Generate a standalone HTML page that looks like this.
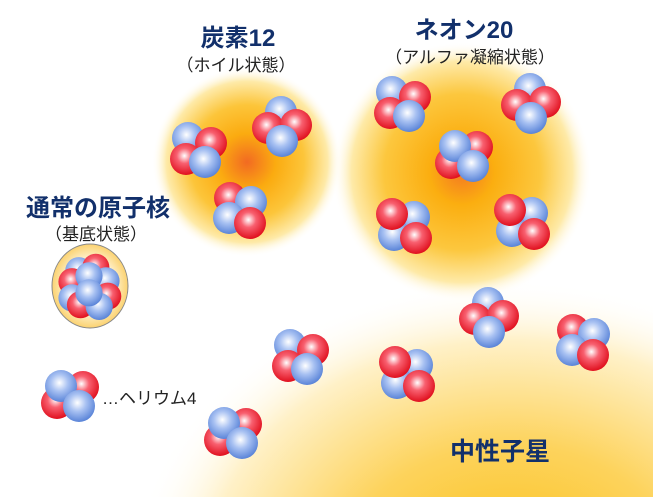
<!DOCTYPE html>
<html><head><meta charset="utf-8"><style>
html,body{margin:0;padding:0;background:#fff;overflow:hidden;width:653px;height:497px;}
svg{display:block;}
.t{font-family:"Liberation Sans","Noto Sans CJK JP",sans-serif;font-weight:bold;fill:#12306b;}
.s{font-family:"Liberation Sans","Noto Sans CJK JP",sans-serif;fill:#222;}
</style></head><body>
<svg width="653" height="497" viewBox="0 0 653 497" xmlns="http://www.w3.org/2000/svg">
<defs>
<radialGradient id="rb" cx="0.45" cy="0.4" r="0.6"><stop offset="0" stop-color="#ffffff"/><stop offset="0.45" stop-color="#a8c1f2"/><stop offset="1" stop-color="#5a84d8"/></radialGradient>
<radialGradient id="rr" cx="0.45" cy="0.4" r="0.6"><stop offset="0" stop-color="#ffffff"/><stop offset="0.4" stop-color="#f86070"/><stop offset="1" stop-color="#e0101e"/></radialGradient>
<radialGradient id="gc" cx="0.5" cy="0.5" r="0.5"><stop offset="0" stop-color="#f26a22"/><stop offset="0.3" stop-color="#fbab10"/><stop offset="0.6" stop-color="#fcc53a"/><stop offset="0.85" stop-color="#feeaa8"/><stop offset="1" stop-color="#fff" stop-opacity="0"/></radialGradient>
<radialGradient id="gn" cx="0.5" cy="0.5" r="0.5"><stop offset="0" stop-color="#f47a22"/><stop offset="0.25" stop-color="#fbae10"/><stop offset="0.6" stop-color="#fcc73e"/><stop offset="0.85" stop-color="#feeaa8"/><stop offset="1" stop-color="#fff" stop-opacity="0"/></radialGradient>
<radialGradient id="gs" cx="0.5" cy="0.5" r="0.5"><stop offset="0" stop-color="#fbbf14"/><stop offset="0.45" stop-color="#fdd35c"/><stop offset="0.8" stop-color="#fff1c8"/><stop offset="1" stop-color="#fff" stop-opacity="0"/></radialGradient>
<radialGradient id="gg" cx="0.5" cy="0.5" r="0.5"><stop offset="0.6" stop-color="#fff6dc"/><stop offset="1" stop-color="#fbd270"/></radialGradient>
<g id="A">
<circle cx="-11" cy="-12" r="16" fill="url(#rb)"/>
<circle cx="12" cy="-7" r="16" fill="url(#rr)"/>
<circle cx="-13" cy="9" r="16" fill="url(#rr)"/>
<circle cx="6" cy="12" r="16" fill="url(#rb)"/>
</g>
<g id="B">
<circle cx="0" cy="-16" r="16" fill="url(#rb)"/>
<circle cx="-13" cy="0" r="16" fill="url(#rr)"/>
<circle cx="15" cy="-3" r="16" fill="url(#rr)"/>
<circle cx="1" cy="13" r="16" fill="url(#rb)"/>
</g>
<g id="C">
<circle cx="-13" cy="8" r="16" fill="url(#rr)"/>
<circle cx="13" cy="-8" r="16" fill="url(#rr)"/>
<circle cx="-9" cy="-9" r="16" fill="url(#rb)"/>
<circle cx="9" cy="11" r="16" fill="url(#rb)"/>
</g>
<g id="D">
<circle cx="-11" cy="-12" r="16" fill="url(#rr)"/>
<circle cx="10" cy="-8" r="16" fill="url(#rb)"/>
<circle cx="-12" cy="8" r="16" fill="url(#rb)"/>
<circle cx="9" cy="13" r="16" fill="url(#rr)"/>
</g>
<g id="E">
<circle cx="10" cy="-9" r="16" fill="url(#rb)"/>
<circle cx="-10" cy="9" r="16" fill="url(#rb)"/>
<circle cx="12" cy="12" r="16" fill="url(#rr)"/>
<circle cx="-12" cy="-12" r="16" fill="url(#rr)"/>
</g>
</defs>
<ellipse cx="510" cy="580" rx="380" ry="300" fill="url(#gs)"/>
<circle cx="462" cy="172" r="130" fill="url(#gn)"/>
<circle cx="247" cy="162" r="95" fill="url(#gc)"/>

<text class="t" x="238" y="46" font-size="24" text-anchor="middle">炭素12</text>
<text class="s" x="236" y="71" font-size="17" text-anchor="middle">（ホイル状態）</text>
<text class="t" x="464" y="38" font-size="24" text-anchor="middle">ネオン20</text>
<text class="s" x="470" y="63" font-size="17" text-anchor="middle">（アルファ凝縮状態）</text>
<text class="t" x="98" y="216" font-size="24" text-anchor="middle">通常の原子核</text>
<text class="s" x="96" y="240" font-size="17" text-anchor="middle">（基底状態）</text>
<text class="t" x="500" y="460" font-size="25" text-anchor="middle">中性子星</text>
<text class="s" x="102" y="404" font-size="17">…ヘリウム4</text>

<ellipse cx="90" cy="286" rx="38" ry="42" fill="url(#gg)" stroke="#888" stroke-width="1"/>
<g transform="translate(89,286) scale(0.85)">
<circle cx="-12" cy="-18" r="16" fill="url(#rb)"/><circle cx="8" cy="-22" r="16" fill="url(#rr)"/>
<circle cx="20" cy="-6" r="16" fill="url(#rb)"/><circle cx="-20" cy="-5" r="16" fill="url(#rr)"/>
<circle cx="-20" cy="14" r="16" fill="url(#rb)"/><circle cx="22" cy="12" r="16" fill="url(#rr)"/>
<circle cx="-10" cy="22" r="16" fill="url(#rr)"/><circle cx="12" cy="24" r="16" fill="url(#rb)"/>
<circle cx="0" cy="-12" r="16" fill="url(#rb)"/><circle cx="0" cy="8" r="16" fill="url(#rb)"/>
</g>

<use href="#A" x="199" y="150"/>
<use href="#B" x="281" y="128"/>
<use href="#D" x="241" y="210"/>
<use href="#A" x="403" y="104"/>
<use href="#B" x="530" y="105"/>
<use href="#C" x="464" y="155"/>
<use href="#E" x="404" y="226"/>
<use href="#E" x="522" y="222"/>
<use href="#A" x="301" y="357"/>
<use href="#B" x="488" y="319"/>
<use href="#D" x="584" y="342"/>
<use href="#E" x="407" y="374"/>
<use href="#C" x="233" y="432"/>
<use href="#C" x="70" y="395"/>
</svg>
</body></html>
